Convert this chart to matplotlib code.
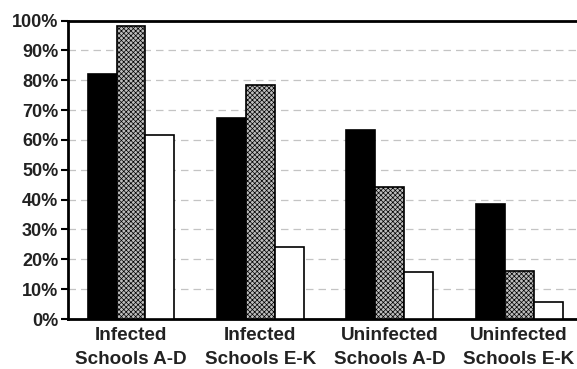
import numpy as np
import matplotlib.pyplot as plt

# data
groups = ['Infected\nSchools A-D', 'Infected\nSchools E-K',
          'Uninfected\nSchools A-D', 'Uninfected\nSchools E-K']
series1 = [82.2, 67.5, 63.4, 38.4]   # black
series2 = [98.3, 78.3, 44.3, 16.2]   # grey hatched
series3 = [61.5, 24.2, 15.8, 5.8]    # white
yticks = list(range(0, 101, 10))

plt.rcParams['font.family'] = ['Liberation Sans', 'DejaVu Sans']
plt.rcParams['hatch.linewidth'] = 0.5
plt.rcParams['hatch.color'] = '#6a6a6a'

fig = plt.figure(figsize=(5.77, 3.69), dpi=100)
ax = fig.add_axes([68/577, 50/369, 1 - 68/577, (319 - 20.5)/369])

x = np.arange(len(groups))
w = 0.224
ax.bar(x - w, series1, w, color='black', edgecolor='black', linewidth=1.2, zorder=3)
ax.bar(x, series2, w, color='#bcbcbc', edgecolor='black', linewidth=1.2,
       hatch='xxxxxxx', zorder=3)
ax.bar(x + w, series3, w, color='white', edgecolor='black', linewidth=1.2, zorder=3)

ax.set_xlim(-0.487, 3.448)
ax.set_ylim(0, 100)
ax.set_yticks(yticks)
ax.set_yticklabels([f'{t}%' for t in yticks], fontsize=13, fontweight='bold', color='#222222')
ax.set_xticks(x)
ax.set_xticklabels(groups, fontsize=13.6, fontweight='bold', color='#222222', linespacing=1.5)
ax.tick_params(axis='x', length=0, pad=6)
ax.tick_params(axis='y', length=5, width=1.5, pad=2)

ax.yaxis.grid(True, linestyle=(0, (6, 4)), color='#c4c4c4', linewidth=0.9, zorder=0)
ax.set_axisbelow(True)

for side in ['left', 'bottom', 'top']:
    ax.spines[side].set_linewidth(2)
    ax.spines[side].set_color('black')
ax.spines['right'].set_visible(False)

fig.savefig('out.png', dpi=100)
